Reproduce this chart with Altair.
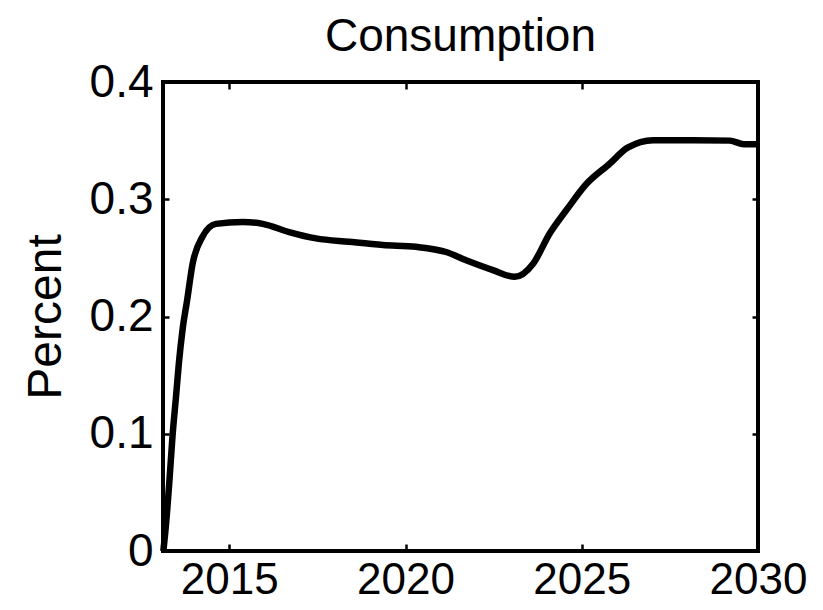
import altair as alt
import pandas as pd

years = [2013.13, 2013.20, 2013.30, 2013.39, 2013.49, 2013.57, 2013.68, 2013.80,
         2013.96, 2014.24, 2014.62,
         2015.38, 2015.95, 2016.7, 2017.46, 2018.4, 2019.36, 2020.3, 2021.15,
         2021.72, 2022.48, 2023.1, 2023.62, 2024.09, 2024.57, 2025.13, 2025.8,
         2026.3, 2027.03, 2028.16, 2029.2, 2029.6, 2030.0]
values = [0.0, 0.021, 0.059, 0.098, 0.132, 0.160, 0.190, 0.213,
          0.245, 0.268, 0.279,
          0.2807, 0.279, 0.272, 0.2666, 0.2637, 0.261, 0.2594, 0.255,
          0.248, 0.2396, 0.2338, 0.245, 0.2708, 0.291, 0.313, 0.3305,
          0.344, 0.3504, 0.3504, 0.350, 0.347, 0.347]

x_ticks_bottom = [2015, 2020, 2025, 2030]
x_ticks_top = [2015, 2020, 2025]
y_ticks = [0, 0.1, 0.2, 0.3, 0.4]
y_ticks_right = [0.1, 0.2, 0.3]

df = pd.DataFrame({"year": years, "value": values})

FONT = "Liberation Sans"
xscale = alt.Scale(domain=[2013.12, 2030], nice=False, zero=False)
yscale = alt.Scale(domain=[0, 0.4], nice=False)

base = alt.Chart(df)

line = base.mark_line(color="black", strokeWidth=6.5, interpolate="monotone").encode(
    x=alt.X("year:Q", scale=xscale,
            axis=alt.Axis(orient="bottom", values=x_ticks_bottom, format="d",
                          domain=False, grid=False, tickSize=7, offset=-7,
                          tickColor="black", tickWidth=2.5,
                          labelFontSize=44, labelFont=FONT, labelColor="black",
                          labelPadding=7, title=None, labelFlush=False)),
    y=alt.Y("value:Q", scale=yscale,
            axis=alt.Axis(orient="left", values=y_ticks, format="~g",
                          domain=False, grid=False, tickSize=6, offset=-6,
                          tickColor="black", tickWidth=2.5,
                          labelFontSize=46, labelFont=FONT, labelColor="black",
                          labelPadding=10, title="Percent", titleFont=FONT,
                          titleFontSize=48, titleFontWeight="normal",
                          titleColor="black", titlePadding=19, labelFlush=False)),
)

ghost = base.mark_line(opacity=0).encode(
    x=alt.X("year:Q", scale=xscale,
            axis=alt.Axis(orient="top", values=x_ticks_top, labels=False,
                          domain=False, grid=False, tickSize=7, offset=-7,
                          tickColor="black", tickWidth=2.5, title=None)),
    y=alt.Y("value:Q", scale=yscale,
            axis=alt.Axis(orient="right", values=y_ticks_right, labels=False,
                          domain=False, grid=False, tickSize=6, offset=-6,
                          tickColor="black", tickWidth=2.5, title=None)),
)

chart = alt.layer(ghost, line).resolve_axis(x="independent", y="independent").properties(
    width=595, height=469,
    title=alt.TitleParams("Consumption", font=FONT, fontSize=46, fontWeight="normal",
                          color="black", anchor="middle", offset=-2),
    autosize=alt.AutoSizeParams(type="none"),
    padding={"left": 155, "top": 74, "right": 55, "bottom": 50},
    background="white",
).configure_view(stroke="black", strokeWidth=4)

chart.save("out.html", embed_options={"renderer": "svg", "actions": False})
